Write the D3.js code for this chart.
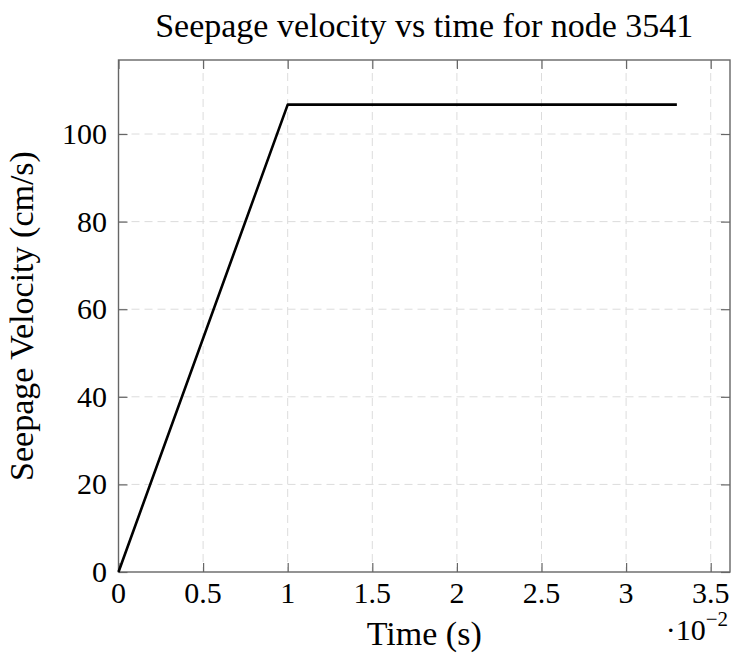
<!DOCTYPE html>
<html>
<head>
<meta charset="utf-8">
<script src="https://cdn.jsdelivr.net/npm/d3@7"></script>
<style>
  body { margin: 0; background: #fff; }
  svg text { font-family: "Liberation Serif", serif; fill: #000; }
</style>
</head>
<body>
<div class="chart"></div>
<script>
// -----------------------------------------------------------------------
// Data (time is in units of 10^-2 s)
// -----------------------------------------------------------------------
const TIME = [0, 1.0, 3.3];
const VELOCITY = [0, 106.7, 106.7];

const X_TICKS = [0, 0.5, 1, 1.5, 2, 2.5, 3, 3.5];
const Y_TICKS = [0, 20, 40, 60, 80, 100];

const X_DOMAIN = [0, 3.614];
const Y_DOMAIN = [0, 116.9];

const TITLE = "Seepage velocity vs time for node 3541";
const X_LABEL = "Time (s)";
const Y_LABEL = "Seepage Velocity (cm/s)";

// -----------------------------------------------------------------------
// Layout
// -----------------------------------------------------------------------
const WIDTH = 731, HEIGHT = 658;
const plot = { left: 118.5, right: 730, top: 60, bottom: 572 };
const TICK_FONT = 30;
const LABEL_FONT = 34;
const TICK_LEN = 9;

const svg = d3.select(".chart").append("svg")
  .attr("width", WIDTH)
  .attr("height", HEIGHT);

const xScale = d3.scaleLinear().domain(X_DOMAIN).range([plot.left, plot.right]);
const yScale = d3.scaleLinear().domain(Y_DOMAIN).range([plot.bottom, plot.top]);

// grid lines
const grid = svg.append("g").attr("class", "grid")
  .attr("stroke", "#dcdcdc")
  .attr("stroke-width", 1)
  .attr("stroke-dasharray", "8,5");

grid.selectAll(".vgrid")
  .data(X_TICKS.filter(d => d > 0))
  .join("line")
  .attr("x1", d => xScale(d)).attr("x2", d => xScale(d))
  .attr("y1", plot.top).attr("y2", plot.bottom);

grid.selectAll(".hgrid")
  .data(Y_TICKS.filter(d => d > 0))
  .join("line")
  .attr("x1", plot.left).attr("x2", plot.right)
  .attr("y1", d => yScale(d)).attr("y2", d => yScale(d));

// axes (ticks pointing inward, labels drawn separately)
const bottomAxis = svg.append("g")
  .attr("transform", `translate(0, ${plot.bottom})`)
  .call(d3.axisTop(xScale).tickValues(X_TICKS).tickSize(TICK_LEN).tickFormat(""));
const topAxis = svg.append("g")
  .attr("transform", `translate(0, ${plot.top})`)
  .call(d3.axisBottom(xScale).tickValues(X_TICKS).tickSize(TICK_LEN).tickFormat(""));
const leftAxis = svg.append("g")
  .attr("transform", `translate(${plot.left}, 0)`)
  .call(d3.axisRight(yScale).tickValues(Y_TICKS).tickSize(TICK_LEN).tickFormat(""));
const rightAxis = svg.append("g")
  .attr("transform", `translate(${plot.right}, 0)`)
  .call(d3.axisLeft(yScale).tickValues(Y_TICKS).tickSize(TICK_LEN).tickFormat(""));

[bottomAxis, topAxis, leftAxis, rightAxis].forEach(a => {
  a.select(".domain").remove();
  a.selectAll(".tick line").attr("stroke", "#666").attr("stroke-width", 1.2);
});

// frame
svg.append("rect")
  .attr("x", plot.left).attr("y", plot.top)
  .attr("width", plot.right - plot.left)
  .attr("height", plot.bottom - plot.top)
  .attr("fill", "none")
  .attr("stroke", "#666")
  .attr("stroke-width", 1.4);

// tick labels
svg.append("g").selectAll("text")
  .data(X_TICKS)
  .join("text")
  .attr("x", d => xScale(d))
  .attr("y", 603)
  .attr("text-anchor", "middle")
  .attr("font-size", TICK_FONT)
  .text(d => d);

svg.append("g").selectAll("text")
  .data(Y_TICKS)
  .join("text")
  .attr("x", 107)
  .attr("y", d => yScale(d) + 10)
  .attr("text-anchor", "end")
  .attr("font-size", TICK_FONT)
  .text(d => d);

// the data line
const line = d3.line()
  .x((d, i) => xScale(TIME[i]))
  .y(d => yScale(d));

svg.append("path")
  .datum(VELOCITY)
  .attr("d", line)
  .attr("fill", "none")
  .attr("stroke", "#000")
  .attr("stroke-width", 2.6)
  .attr("stroke-linejoin", "round");

// title and axis labels
svg.append("text")
  .attr("x", (plot.left + plot.right) / 2)
  .attr("y", 37)
  .attr("text-anchor", "middle")
  .attr("font-size", LABEL_FONT)
  .text(TITLE);

svg.append("text")
  .attr("x", (plot.left + plot.right) / 2)
  .attr("y", 645)
  .attr("text-anchor", "middle")
  .attr("font-size", LABEL_FONT)
  .text(X_LABEL);

svg.append("text")
  .attr("transform", `translate(33, ${(plot.top + plot.bottom) / 2}) rotate(-90)`)
  .attr("text-anchor", "middle")
  .attr("font-size", LABEL_FONT)
  .text(Y_LABEL);

// scale factor for the x axis
const mult = svg.append("text")
  .attr("x", 728)
  .attr("y", 640)
  .attr("text-anchor", "end")
  .attr("font-size", TICK_FONT);
mult.append("tspan").text("\u00B710");
mult.append("tspan").attr("dy", -14).attr("font-size", 21).text("\u22122");
</script>
</body>
</html>
